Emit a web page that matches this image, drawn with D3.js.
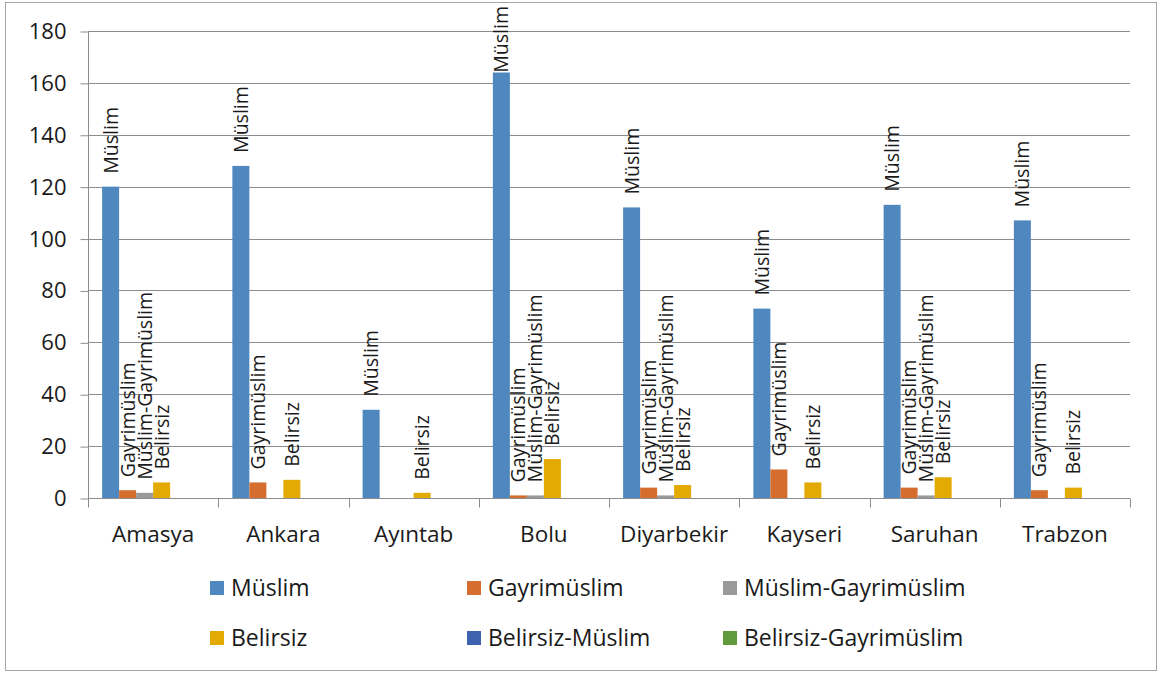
<!DOCTYPE html>
<html>
<head>
<meta charset="utf-8">
<script src="https://cdn.jsdelivr.net/npm/d3@7"></script>
<style>
  body { margin: 0; background: #fff; }
  text { font-family: "Open Sans", sans-serif; fill: #1a1a1a; }
</style>
</head>
<body>
<div id="chart"></div>
<script>
const categories = ["Amasya", "Ankara", "Ayıntab", "Bolu", "Diyarbekir", "Kayseri", "Saruhan", "Trabzon"];
const seriesNames = ["Müslim", "Gayrimüslim", "Müslim-Gayrimüslim", "Belirsiz", "Belirsiz-Müslim", "Belirsiz-Gayrimüslim"];
const colors = ["#4f88be", "#d56d2e", "#9a9a9a", "#e4aa04", "#3f62ae", "#619a3c"];

const muslim = [120, 128, 34, 164, 112, 73, 113, 107];
const gayrimuslim = [3, 6, 0, 1, 4, 11, 4, 3];
const muslimGayrimuslim = [2, 0, 0, 1, 1, 0, 1, 0];
const belirsiz = [6, 7, 2, 15, 5, 6, 8, 4];
const belirsizMuslim = [0, 0, 0, 0, 0, 0, 0, 0];
const belirsizGayrimuslim = [0, 0, 0, 0, 0, 0, 0, 0];
const yTicks = [0, 20, 40, 60, 80, 100, 120, 140, 160, 180];

const seriesValues = [muslim, gayrimuslim, muslimGayrimuslim, belirsiz, belirsizMuslim, belirsizGayrimuslim];

const width = 1160;
const height = 673;
const margin = { top: 31, right: 30, bottom: 175, left: 88 };

const svg = d3.select("#chart")
  .append("svg")
  .attr("width", width)
  .attr("height", height);

// outer frame
svg.append("rect")
  .attr("x", 5.5).attr("y", 2.5)
  .attr("width", 1151).attr("height", 668)
  .attr("fill", "white")
  .attr("stroke", "#a6a6a6");

const x0 = d3.scaleBand()
  .domain(categories)
  .range([margin.left, width - margin.right]);

const x1 = d3.scaleBand()
  .domain(seriesNames)
  .range([0, x0.bandwidth()])
  .paddingOuter(0.83);

const y = d3.scaleLinear()
  .domain([0, 180])
  .range([height - margin.bottom, margin.top]);

// gridlines
svg.append("g")
  .selectAll("line")
  .data(yTicks.slice(1))
  .enter()
  .append("line")
  .attr("x1", margin.left)
  .attr("x2", width - margin.right)
  .attr("y1", d => Math.round(y(d)) + 0.5)
  .attr("y2", d => Math.round(y(d)) + 0.5)
  .attr("stroke", "#8c8c8c");

// y axis
const yAxis = svg.append("g")
  .attr("transform", `translate(${margin.left + 0.5}, 0.5)`)
  .call(d3.axisLeft(y).tickValues(yTicks).tickSize(8).tickPadding(14));
yAxis.select(".domain").attr("stroke", "#8c8c8c").attr("d", `M-0,${y(180)}V${y(0)}`);
yAxis.selectAll(".tick line").attr("stroke", "#8c8c8c");
yAxis.selectAll(".tick text")
  .style("font-family", "'Open Sans', sans-serif")
  .style("font-size", "22px")
  .attr("fill", "#1a1a1a");

// x axis
const xAxis = svg.append("g")
  .attr("transform", `translate(0, ${Math.round(y(0)) + 0.5})`);
xAxis.append("line")
  .attr("x1", margin.left).attr("x2", width - margin.right)
  .attr("stroke", "#8c8c8c");
xAxis.selectAll(".sep")
  .data(categories.concat(["end"]))
  .enter()
  .append("line")
  .attr("class", "sep")
  .attr("x1", (d, i) => Math.round(margin.left + i * x0.step()) + 0.5)
  .attr("x2", (d, i) => Math.round(margin.left + i * x0.step()) + 0.5)
  .attr("y1", 0).attr("y2", 9)
  .attr("stroke", "#8c8c8c");
xAxis.selectAll(".cat")
  .data(categories)
  .enter()
  .append("text")
  .attr("class", "cat")
  .attr("x", d => x0(d) + x0.bandwidth() / 2)
  .attr("y", 43)
  .attr("text-anchor", "middle")
  .style("font-size", "22.5px")
  .text(d => d);

// bars
const rows = [];
categories.forEach((c, ci) => {
  seriesNames.forEach((s, si) => {
    rows.push({ cat: c, series: s, value: seriesValues[si][ci], color: colors[si] });
  });
});

const groups = svg.append("g");
groups.selectAll("rect")
  .data(rows.filter(d => d.value > 0))
  .enter()
  .append("rect")
  .attr("x", d => x0(d.cat) + x1(d.series))
  .attr("y", d => y(d.value))
  .attr("width", x1.bandwidth())
  .attr("height", d => y(0) - y(d.value))
  .attr("fill", d => d.color);

// data labels (series name, rotated); pushed down if they would leave the frame
groups.selectAll(".lbl")
  .data(rows.filter(d => d.value > 0))
  .enter()
  .append("text")
  .attr("class", "lbl")
  .attr("dy", "0.36em")
  .style("font-size", "19.5px")
  .text(d => d.series)
  .attr("transform", function (d) {
    const len = this.getComputedTextLength();
    const cx = x0(d.cat) + x1(d.series) + x1.bandwidth() / 2;
    const cy = Math.max(y(d.value) - 13, 6 + len);
    return `translate(${cx}, ${cy}) rotate(-90)`;
  });

// legend
const legendCols = [210, 467, 723];
const legendRows = [588, 638];
const legend = svg.append("g")
  .selectAll("g")
  .data(seriesNames)
  .enter()
  .append("g")
  .attr("transform", (d, i) => `translate(${legendCols[i % 3]}, ${legendRows[Math.floor(i / 3)]})`);
legend.append("rect")
  .attr("x", 0).attr("y", -7)
  .attr("width", 14).attr("height", 14)
  .attr("fill", (d, i) => colors[i]);
legend.append("text")
  .attr("x", 21)
  .attr("dy", "0.36em")
  .style("font-size", "23px")
  .text(d => d);
</script>
</body>
</html>
